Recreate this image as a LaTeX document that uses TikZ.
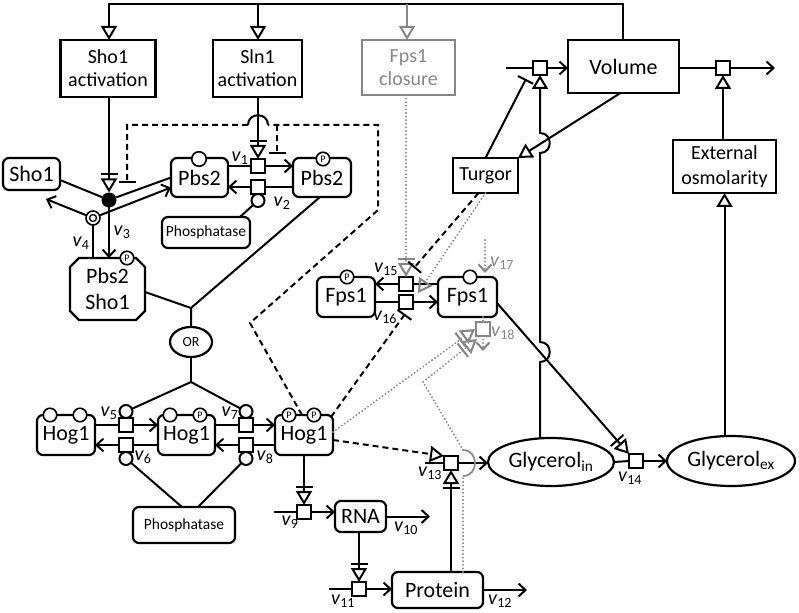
\documentclass[tikz,border=0pt]{standalone}
\usepackage{fontspec}
\setmainfont{Carlito}
\usetikzlibrary{arrows.meta,shapes.geometric}
\definecolor{gr}{RGB}{135,135,135}
\newcommand{\vv}[1]{\textit{v}\textsubscript{#1}}
\begin{document}
\begin{tikzpicture}[x=1pt,y=-1pt,line width=2pt,
 every node/.style={inner sep=0pt,outer sep=0pt,align=center},
 boxn/.style={draw,line width=2.2pt,fill=white,font=\fontsize{20}{23}\selectfont},
 macro/.style={draw,line width=2.2pt,rounded corners=6pt,fill=white,font=\fontsize{22}{25}\selectfont},
 proc/.style={draw,line width=2pt,fill=white,minimum size=14pt},
 svar/.style={circle,draw,line width=1.6pt,fill=white,minimum size=13.5pt,font=\fontsize{10}{10}\selectfont},
 cat/.style={circle,draw,line width=2pt,fill=white,minimum size=13pt},
 vlab/.style={font=\fontsize{20}{20}\selectfont},
 prod/.style={-{Straight Barb[length=7pt,width=13pt]}},
 stim/.style={-{Triangle[open,length=14pt,width=16pt]}},
 nstim/.style={-{Bar[width=17pt,sep=3pt] Triangle[open,length=14pt,width=16pt]}},
 inh/.style={-{Bar[width=17pt]}},
 dsh/.style={dash pattern=on 6pt off 4pt},
 dotg/.style={draw=gr,line cap=round,dash pattern=on 0pt off 3.6pt,line width=2.1pt},
]
\useasboundingbox (0,0) rectangle (799,612);

% ---------- boxes
\node[boxn,minimum width=95pt,minimum height=57pt] (sho1act) at (108,68.5) {Sho1\\activation};
\node[boxn,minimum width=89pt,minimum height=57pt] (sln1act) at (257.5,68.5) {Sln1\\activation};
\node[boxn,draw=gr,text=gr,minimum width=93pt,minimum height=55pt] (fpsc) at (408.5,67.5) {Fps1\\closure};
\node[boxn,minimum width=111pt,minimum height=53pt,font=\fontsize{22}{25}\selectfont] (vol) at (623.5,66.5) {Volume};
\node[boxn,minimum width=103pt,minimum height=53pt,font=\fontsize{20}{25}\selectfont] (ext) at (724.5,166.5) {External\\osmolarity};
\node[boxn,minimum width=65pt,minimum height=35pt] (turgor) at (485.5,175.5) {Turgor};

% ---------- macromolecules
\node[macro,minimum width=57pt,minimum height=32pt] (sho1) at (31.5,174) {Sho1};
\node[macro,minimum width=57pt,minimum height=39pt] (pbs2a) at (199.5,177.5) {Pbs2};
\node[macro,minimum width=58pt,minimum height=39pt] (pbs2p) at (322,177.5) {Pbs2};
\node[macro,minimum width=88pt,minimum height=31pt,font=\fontsize{15.5}{16}\selectfont] (phos1) at (206,232.5) {Phosphatase};
\node[macro,minimum width=58pt,minimum height=40pt] (hog1a) at (66,435) {Hog1};
\node[macro,minimum width=57pt,minimum height=40pt] (hog1b) at (186.5,435) {Hog1};
\node[macro,minimum width=58pt,minimum height=40pt] (hog1c) at (304,435) {Hog1};
\node[macro,minimum width=102pt,minimum height=36pt,font=\fontsize{15.5}{16}\selectfont] (phos2) at (184,525) {Phosphatase};
\node[macro,minimum width=51pt,minimum height=31pt] (rna) at (360.5,516.5) {RNA};
\node[macro,minimum width=91pt,minimum height=36pt] (protein) at (437.5,590) {Protein};
\node[macro,minimum width=58pt,minimum height=40pt] (fps1p) at (346,297) {Fps1};
\node[macro,minimum width=59pt,minimum height=40pt] (fps1) at (467.5,297) {Fps1};

% complex
\filldraw[fill=white,line width=2.2pt] (79,258) -- (136,258) -- (145,267) -- (145,311) -- (136,320) -- (79,320) -- (70,311) -- (70,267) -- cycle;
\node[minimum width=75pt,minimum height=62pt,font=\fontsize{22}{26}\selectfont] (cplx) at (107.5,289) {Pbs2\\Sho1};

\node[ellipse,draw,line width=2.2pt,fill=white,minimum width=42pt,minimum height=30pt,font=\fontsize{14}{14}\selectfont] (or) at (191,342) {OR};
\node[ellipse,draw,line width=2.2pt,fill=white,minimum width=126pt,minimum height=48pt,font=\fontsize{22}{24}\selectfont] (glyin) at (551,462) {Glycerol\textsubscript{in}};
\node[ellipse,draw,line width=2.2pt,fill=white,minimum width=128pt,minimum height=50pt,font=\fontsize{22}{24}\selectfont] (glyex) at (731,461) {Glycerol\textsubscript{ex}};

% ---------- process nodes
\node[proc] (p1) at (258,166) {};
\node[proc] (p2) at (258,187) {};
\node[proc] (p5) at (126,425) {};
\node[proc] (p6) at (126,445) {};
\node[proc] (p7) at (246,425) {};
\node[proc] (p8) at (246,445) {};
\node[proc] (p9) at (304,512) {};
\node[proc] (p11) at (359,589) {};
\node[proc] (p13) at (451,463) {};
\node[proc] (p14) at (636,461) {};
\node[proc] (p15) at (406,284) {};
\node[proc] (p16) at (406,302) {};
\node[proc,draw=gr] (p18) at (483,329) {};
\node[proc] (pin) at (540,68) {};
\node[proc] (pout) at (723,68) {};

% catalysis
\node[cat] (c2) at (258,200.5) {};
\node[cat] (c5) at (126,411.5) {};
\node[cat] (c7) at (246,411.5) {};
\node[cat] (c6) at (126,458.5) {};
\node[cat] (c8) at (246,458.5) {};

% association / dissociation
\node[circle,fill=black,minimum size=15pt] (dot) at (109,200) {};
\node[circle,draw,fill=white,line width=1.6pt,minimum size=14pt] (dis) at (93,218) {};
\node[circle,draw,line width=1.3pt,minimum size=7pt] (disin) at (93,218) {};

% state variables
\node[svar,minimum size=14.5pt] (s1) at (199,159) {};
\node[svar] (s2) at (323,159) {P};
\node[svar] (s3) at (127,258) {P};
\node[svar] (s4) at (50,415) {};
\node[svar] (s5) at (80,415) {};
\node[svar] (s6) at (170,415) {};
\node[svar] (s7) at (200,415) {P};
\node[svar] (s8) at (289,415) {P};
\node[svar] (s9) at (314,415) {P};
\node[svar] (s10) at (347,277) {P};
\node[svar] (s11) at (470,277) {};

% ---------- labels
\node[vlab] (l1) at (240,158) {\vv{1}};
\node[vlab] (l2) at (282,203) {\vv{2}};
\node[vlab] (l3) at (122,232) {\vv{3}};
\node[vlab] (l4) at (81,243) {\vv{4}};
\node[vlab] (l5) at (109,413) {\vv{5}};
\node[vlab] (l6) at (143,457) {\vv{6}};
\node[vlab] (l7) at (230,413) {\vv{7}};
\node[vlab] (l8) at (265,457) {\vv{8}};
\node[vlab] (l9) at (290,522) {\vv{9}};
\node[vlab] (l10) at (406,528) {\vv{10}};
\node[vlab] (l11) at (343,601) {\vv{11}};
\node[vlab] (l12) at (500,601) {\vv{12}};
\node[vlab] (l13) at (430,473) {\vv{13}};
\node[vlab] (l14) at (630,478) {\vv{14}};
\node[vlab] (l15) at (386,269) {\vv{15}};
\node[vlab] (l16) at (385,317) {\vv{16}};
\node[vlab,text=gr] (l17) at (502,263) {\vv{17}};
\node[vlab,text=gr] (l18) at (503,333) {\vv{18}};

% ---------- top line
\coordinate (t1) at (109,4);
\coordinate (t2) at (258,4);
\coordinate (t3) at (407,4);
\coordinate (t4) at (623,4);
\draw[stim] (t4 |- vol.north) -- (t4) -- (t1) -- (t1 |- sho1act.north);
\draw[stim] (t2) -- (t2 |- sln1act.north);
\draw[stim,draw=gr] (t3) -- (t3 |- fpsc.north);

% ---------- Sho1 association / dissociation
\draw[nstim] (dot |- sho1act.south) -- (dot.north);
\draw ([yshift=-6pt]sho1.east) -- (dot);
\draw (pbs2a.west) -- (dot);
\draw[prod] (dot) -- (dot |- cplx.north);
\draw (dis |- cplx.north) -- (dis);
\coordinate (sho1tip) at (46,199);
\draw[prod] (dis) -- (sho1tip);
\draw[prod] (dis) -- ([yshift=-10pt]pbs2a.west);

% ---------- dashed feedback from Hog1PP
\coordinate (dB) at (250,323);
\coordinate (dC) at (378,210);
\coordinate (dD) at (378,125);
\coordinate (hR) at (268,125);
\coordinate (hL) at (248,125);
\coordinate (dE) at (127,125);
\coordinate (dF) at (127,183);
\coordinate (bA) at (277,125);
\coordinate (bB) at (277,154);
\draw[dsh,inh] ([xshift=-2pt]hog1c.north) -- (dB) -- (dC) -- (dD) -- (hR) (hL) -- (dE) -- (dF);
\draw (hR) .. controls (268,112) and (248,112) .. (hL);
\draw[dsh,inh] (bA) -- (bB);

% ---------- Pbs2 phosphorylation
\draw ([yshift=11.5pt]pbs2a.east) -- (p1.west);
\draw[prod] (p1.east) -- (p1.east -| pbs2p.west);
\draw (p2.east -| pbs2p.west) -- (p2.east);
\draw[prod] (p2.west) -- (p2.west -| pbs2a.east);
\draw[nstim] (p1 |- sln1act.south) -- (p1.north);
\draw ([xshift=-10pt]phos1.north east) -- (c2);

% ---------- OR
\coordinate (J1) at (191,308);
\coordinate (J2) at (191,382);
\draw ([xshift=-2pt]pbs2p.south) -- (J1) -- (or.north);
\draw ([yshift=-3pt]cplx.east) -- (J1);
\draw (or.south) -- (J2);
\draw (J2) -- (c5);
\draw (J2) -- (c7);

% ---------- Hog1 phosphorylation
\draw ([yshift=10pt]hog1a.east) -- (p5.west);
\draw[prod] (p5.east) -- (p5.east -| hog1b.west);
\draw ([yshift=10pt]hog1b.east) -- (p7.west);
\draw[prod] (p7.east) -- (p7.east -| hog1c.west);
\draw (p6.east -| hog1b.west) -- (p6.east);
\draw[prod] (p6.west) -- (p6.west -| hog1a.east);
\draw (p8.east -| hog1c.west) -- (p8.east);
\draw[prod] (p8.west) -- (p8.west -| hog1b.east);
\draw ([xshift=-2pt]phos2.north) -- (c6);
\draw ([xshift=14pt]phos2.north) -- (c8);

% ---------- gene expression
\draw[nstim] (hog1c.south) -- (p9.north);
\coordinate (s9) at (274,512);
\draw (s9) -- (p9.west);
\draw[prod] (p9.east) -- (p9.east -| rna.west);
\coordinate (e10) at (430,516.5);
\draw[prod] (rna.east) -- (e10);
\draw[nstim] (p11 |- rna.south) -- (p11.north);
\coordinate (s11) at (329,589);
\draw (s11) -- (p11.west);
\draw[prod] (p11.east) -- (p11.east -| protein.west);
\coordinate (e12) at (527,590);
\draw[prod] (protein.east) -- (e12);
\draw[nstim] (p13 |- protein.north) -- (p13.south);
\coordinate (s13) at (425,463);
\draw (s13) -- (p13.west);
\draw[prod] (p13.east) -- (p13.east -| glyin.west);
\draw[dsh,stim] ([yshift=-5pt]hog1c.east) -- (p13.north west);

% ---------- glycerol
\draw (glyin.east) -- (p14.west);
\draw[prod] (p14.east) -- (glyex.west);
\draw[nstim] ([yshift=-6pt]fps1.east) -- (p14.north west);
\coordinate (h1a) at (540,362);
\coordinate (h1b) at (540,342);
\coordinate (h2a) at (540,153);
\coordinate (h2b) at (540,133);
\draw[stim] (pin |- glyin.north) -- (h1a) .. controls (553,362) and (553,342) .. (h1b) -- (h2a) .. controls (553,153) and (553,133) .. (h2b) -- (pin.south);

% ---------- volume
\coordinate (sin) at (506,68);
\draw (sin) -- (pin.west);
\draw[prod] (pin.east) -- (pin.east -| vol.west);
\draw (pout.west -| vol.east) -- (pout.west);
\coordinate (eout) at (775,68);
\draw[prod] (pout.east) -- (eout);
\draw[stim] (pout |- ext.north) -- (pout.south);
\draw[stim] (ext.south |- glyex.north) -- (ext.south);
\coordinate (tin) at (526,79);
\draw[inh] (turgor.north) -- (tin);
\draw[stim] ([xshift=-3pt]vol.south) -- (turgor.north east);

% ---------- Fps1
\draw ([yshift=13pt]fps1.west) -- (p15.east);
\draw[prod] (p15.west) -- (p15.west -| fps1p.east);
\draw ([yshift=-5pt]fps1p.east) -- (p16.west);
\draw[prod] (p16.east) -- (p16.east -| fps1.west);
\draw[dotg,nstim] (p15 |- fpsc.south) -- (p15.north);
\coordinate (t15) at (414,268);
\draw[dsh,inh] ([xshift=-7pt]turgor.south) -- (t15);
\coordinate (t15b) at (418,293);
\draw[dotg,stim] (turgor.south) -- (t15b);
\coordinate (t16) at (405,314);
\draw[dsh,inh] ([xshift=-2pt,yshift=-2pt]hog1c.north east) -- (t16);
\coordinate (v17s) at (485,240);
\coordinate (v17e) at (485,273);
\draw[dotg,prod] (v17s) -- (v17e);
\draw[dotg] (p18 |- fps1.south) -- (p18.north);
\coordinate (v18e) at (483,351);
\draw[dotg,prod] (p18.south) -- (v18e);
\coordinate (e18a) at (475,329);
\draw[dotg,nstim] ([yshift=3pt]hog1c.east) -- (e18a);
\coordinate (q1) at (463,476);
\coordinate (q2) at (463,450);
\coordinate (q3) at (423,382);
\coordinate (e18b) at (477,339);
\draw[dotg] ([xshift=25.5pt]protein.north) -- (q1);
\draw[gr,line width=1.7pt] (q1) .. controls (479,476) and (479,450) .. (q2);
\draw[dotg,nstim] (q2) -- (q3) -- (e18b);
\end{tikzpicture}
\end{document}
